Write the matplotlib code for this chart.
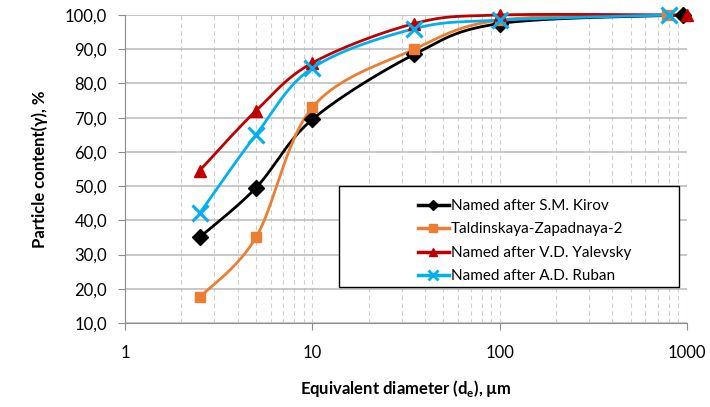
import numpy as np
import matplotlib.pyplot as plt
from matplotlib.patches import Rectangle
from matplotlib.ticker import FixedLocator, NullFormatter, FuncFormatter

plt.rcParams['font.family'] = ['Lato', 'DejaVu Sans']
plt.rcParams['mathtext.fontset'] = 'custom'
plt.rcParams['mathtext.rm'] = 'Lato'
plt.rcParams['mathtext.bf'] = 'Lato:bold'

# data
names = ['Named after S.M. Kirov', 'Taldinskaya-Zapadnaya-2',
         'Named after V.D. Yalevsky', 'Named after A.D. Ruban']
x_kirov = [2.5, 5, 10, 35, 100, 950]
y_kirov = [35.0, 49.5, 69.5, 88.5, 97.5, 100.0]
x_tald = [2.5, 5, 10, 35, 100, 780]
y_tald = [17.5, 35.0, 73.0, 90.0, 98.5, 100.0]
x_yal = [2.5, 5, 10, 35, 100, 1000]
y_yal = [54.5, 72.0, 86.0, 97.5, 100.0, 100.0]
x_rub = [2.5, 5, 10, 35, 100, 800]
y_rub = [42.0, 65.0, 84.5, 96.0, 98.5, 100.0]

colors = ['black', '#ED7D31', '#C00000', '#00B0F0']
markers = ['D', 's', '^', 'x']
msizes = [8, 7.5, 9, 11]


def smooth(xs, ys, n=40):
    # Catmull-Rom style smoothing in screen-like space (log x)
    sx, sy = 187.0, 3.41
    u = np.log10(np.asarray(xs, float)) * sx
    v = np.asarray(ys, float) * sy
    pts = np.column_stack([u, v])
    p = np.vstack([pts[0], pts, pts[-1]])
    out = []
    t = np.linspace(0, 1, n)[:, None]
    for i in range(1, len(p) - 2):
        p0, p1, p2, p3 = p[i - 1], p[i], p[i + 1], p[i + 2]
        c1 = p1 + (p2 - p0) / 6
        c2 = p2 - (p3 - p1) / 6
        seg = ((1 - t) ** 3) * p1 + 3 * ((1 - t) ** 2) * t * c1 + 3 * (1 - t) * t ** 2 * c2 + t ** 3 * p2
        out.append(seg)
    out = np.vstack(out)
    return 10 ** (out[:, 0] / sx), out[:, 1] / sy


fig = plt.figure(figsize=(7.1, 4.07), dpi=100)
ax = fig.add_axes([125 / 710, 1 - 323 / 407, (687 - 125) / 710, (323 - 15) / 407])

series = [(x_kirov, y_kirov), (x_tald, y_tald), (x_yal, y_yal), (x_rub, y_rub)]
handles = []
for (xs, ys), c, m, ms, name in zip(series, colors, markers, msizes, names):
    sxs, sys_ = smooth(xs, ys)
    ax.plot(sxs, sys_, color=c, lw=2, zorder=3, clip_on=False)
    ax.plot(xs, ys, ls='none', marker=m, ms=ms, color=c, mew=2.2 if m == 'x' else 1,
            zorder=4, clip_on=False)
    h, = ax.plot([], [], color=c, lw=2.5, marker=m, ms=ms * 0.7, mew=2 if m == 'x' else 1)
    handles.append(h)

ax.set_xscale('log')
ax.set_xlim(1, 1000)
ax.set_ylim(10, 100)
ax.set_yticks(np.arange(10, 101, 10))
ax.yaxis.set_major_formatter(FuncFormatter(lambda v, p: f'{v:.1f}'.replace('.', ',')))
ax.xaxis.set_major_locator(FixedLocator([1, 10, 100, 1000]))
ax.xaxis.set_major_formatter(FuncFormatter(lambda v, p: f'{v:g}'))
minor = [k * 10 ** d for d in range(3) for k in range(2, 10)]
ax.xaxis.set_minor_locator(FixedLocator(minor))
ax.xaxis.set_minor_formatter(NullFormatter())

ax.grid(axis='y', which='major', color='#BFBFBF', lw=1.2, ls='-')
ax.grid(axis='x', which='both', color='#CFCFCF', lw=0.8, ls=(0, (4, 3)))
ax.set_axisbelow(True)
for s in ['top', 'right']:
    ax.spines[s].set_visible(False)
for s in ['left', 'bottom']:
    ax.spines[s].set_color('#8C8C8C')
ax.tick_params(axis='both', which='major', labelsize=12, color='#8C8C8C', length=5, pad=8)
ax.tick_params(axis='x', which='minor', length=0)
ax.tick_params(axis='x', which='major', pad=11)

ax.set_ylabel('Particle content(γ), %', fontsize=12, fontweight='bold', labelpad=12)
ax.set_xlabel(r'Equivalent diameter (d$_\mathbf{e}$), µm', fontsize=12, fontweight='bold', labelpad=12)

# legend box drawn as a frame, entries placed inside it
x0, x1, y0, y1 = 339, 679, 186, 287
frame = Rectangle(((x0 - 125) / 562, (323 - y1) / 308), (x1 - x0) / 562, (y1 - y0) / 308,
                  transform=ax.transAxes, facecolor='white', edgecolor='black', lw=1,
                  zorder=5, clip_on=False)
ax.add_patch(frame)
leg = ax.legend(handles, names, loc='upper left',
                bbox_to_anchor=((405 - 125) / 562, (323 - 186) / 308),
                fontsize=11, frameon=False, handlelength=2.0, handletextpad=0.15,
                borderpad=0.35, labelspacing=0.62)
leg.set_zorder(6)

fig.savefig('out.png', dpi=100)
